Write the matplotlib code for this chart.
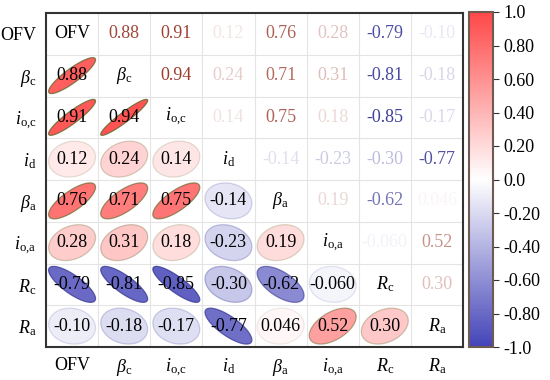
import numpy as np
import matplotlib
matplotlib.use("Agg")
import matplotlib.pyplot as plt
from matplotlib.patches import Polygon
from matplotlib.colors import LinearSegmentedColormap, Normalize
import matplotlib.colorbar as mcolorbar

plt.rcParams['font.family'] = ['Liberation Serif', 'DejaVu Serif']
plt.rcParams['mathtext.fontset'] = 'custom'
plt.rcParams['mathtext.rm'] = 'Liberation Serif'
plt.rcParams['mathtext.it'] = 'Liberation Serif:italic'
plt.rcParams['axes.unicode_minus'] = False

labels = ['OFV', r'$\beta_\mathrm{c}$', r'$i_\mathrm{o{,}c}$', r'$i_\mathrm{d}$',
          r'$\beta_\mathrm{a}$', r'$i_\mathrm{o{,}a}$', r'$R_\mathrm{c}$', r'$R_\mathrm{a}$']

# upper-triangle correlations, row by row
row_ofv = [0.88, 0.91, 0.12, 0.76, 0.28, -0.79, -0.10]
row_bc = [0.94, 0.24, 0.71, 0.31, -0.81, -0.18]
row_ioc = [0.14, 0.75, 0.18, -0.85, -0.17]
row_id = [-0.14, -0.23, -0.30, -0.77]
row_ba = [0.19, -0.62, 0.046]
row_ioa = [-0.060, 0.52]
row_rc = [0.30]
upper_rows = [row_ofv, row_bc, row_ioc, row_id, row_ba, row_ioa, row_rc]

n = len(labels)
C = np.eye(n)
for i, row in enumerate(upper_rows):
    for k, v in enumerate(row):
        j = i + 1 + k
        C[i, j] = v
        C[j, i] = v

blue = np.array([0x44, 0x44, 0xb8]) / 255
red = np.array([0xff, 0x48, 0x48]) / 255
cmap = LinearSegmentedColormap.from_list('bwr2', [blue, (1, 1, 1), red])
norm = Normalize(-1, 1)

fig = plt.figure(figsize=(5.5, 3.8), dpi=100)
ax = fig.add_axes([46/550, 33/380, 417/550, 334/380])
ax.set_xlim(0, n)
ax.set_ylim(0, n)

# grid
for k in range(1, n):
    ax.axvline(k, color='#e4e4e4', lw=0.8, zorder=0)
    ax.axhline(k, color='#e4e4e4', lw=0.8, zorder=0)

sx, sy = 0.45, 0.43
t = np.linspace(0, 2 * np.pi, 200)
FS = 13
pos_text = np.array([0.60, 0.22, 0.16])
neg_text = np.array([0.16, 0.16, 0.56])
for i in range(n):
    for j in range(n):
        cx = j + 0.5
        cy = n - 1 - i + 0.5
        r = C[i, j]
        if i == j:
            ax.text(cx, cy, labels[i], ha='center', va='center', fontsize=FS, color='black')
        elif j > i:
            base = pos_text if r > 0 else neg_text
            tc = tuple(base) + (min(1, abs(r) * 1.05),)
            ax.text(cx, cy, f"{r:#.2g}", ha='center', va='center', fontsize=FS, color=tc)
        else:
            fc = cmap(norm(r))
            a = 0.08 + 0.85 * abs(r)
            if r >= 0:
                ec = (0.42, 0.42, 0.2, a)
            else:
                ec = (0.22, 0.22, 0.58, a)
            d = np.arccos(r)
            xs = cx + sx * np.cos(t + d / 2)
            ys = cy + sy * np.cos(t - d / 2)
            p = Polygon(np.column_stack([xs, ys]), closed=True, facecolor=fc, edgecolor=ec, lw=0.9, zorder=2)
            ax.add_patch(p)
            ax.text(cx, cy, f"{r:#.2g}", ha='center', va='center', fontsize=FS, color='black', zorder=3)

ax.set_xticks(np.arange(n) + 0.5)
ax.set_xticklabels(labels, fontsize=FS)
ax.set_yticks(np.arange(n) + 0.5)
ax.set_yticklabels(labels[::-1], fontsize=FS)
ax.tick_params(length=0, pad=7)
for sp in ax.spines.values():
    sp.set_linewidth(1.5)
    sp.set_color('#333333')

cax = fig.add_axes([469/550, 33/380, 24/550, 335/380])
cb = mcolorbar.ColorbarBase(cax, cmap=cmap, norm=norm, orientation='vertical')
ticks = [1.0, 0.8, 0.6, 0.4, 0.2, 0.0, -0.2, -0.4, -0.6, -0.8, -1.0]
tick_labels = ['1.0', '0.80', '0.60', '0.40', '0.20', '0.0', '-0.20', '-0.40', '-0.60', '-0.80', '-1.0']
cb.set_ticks(ticks)
cb.set_ticklabels(tick_labels)
cax.tick_params(labelsize=FS, length=4, width=0.8, color='#333333')
cb.outline.set_linewidth(1.5)
cb.outline.set_edgecolor('#6e5a50')

fig.savefig('out.png', dpi=100)
